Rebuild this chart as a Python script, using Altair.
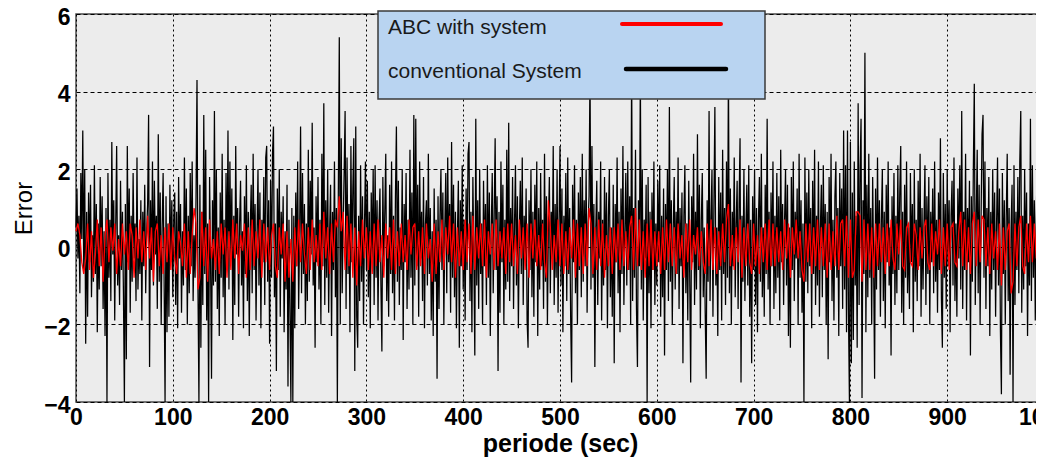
import altair as alt
import pandas as pd

# ---- data read (estimated) from the reference picture ----
series_names = ["ABC with system", "conventional System"]
series_colors = ["#ff0000", "#000000"]
x_ticks = [0, 100, 200, 300, 400, 500, 600, 700, 800, 900, 1000]
y_ticks = [-4, -2, 0, 2, 4, 6]

# conventional system: one sample per second
conventional_error = [
    0.5, 1.5, -0.3, 0.8, -1.2, 1.9, 0.2, 3.0, -0.6, 2.0, -2.5, 0.9, -1.8, 1.4, -0.4, 1.6, -1.3, 0.3, -0.9, 2.1, -0.7, 1.1, -2.2, 0.6, -1.1,
    1.8, -0.5, 1.3, -1.6, 0.4, -2.3, 1.0, -4.0, 1.9, -0.8, 0.7, -1.4, 2.7, -0.2, 1.2, -1.9, 0.5, 2.6, -1.0, 0.3, -1.5, 1.7, -0.6, 0.9, -1.2,
    -4.0, 1.1, -2.9, 2.6, -0.4, 1.5, -1.7, 0.8, -0.9, 1.9, -0.3, 0.6, -1.4, 2.3, -1.1, 0.2, -0.7, 1.2, -1.9, 0.9, -0.5, 1.6, -1.2, 0.4, 1.1,
    3.4, -3.1, 1.2, -0.6, 2.2, -1.0, 1.7, -0.2, 0.8, -1.6, 2.9, -0.9, 1.4, -2.0, 0.5, 1.9, -0.8, -4.0, 1.3, -2.2, 0.6, -1.8, 1.6, -0.4, 1.2,
    -1.3, 0.7, 1.4, -1.5, 0.9, -2.1, 1.8, -0.3, 1.1, -1.7, 0.4, -1.0, 2.3, -0.6, 1.5, -2.0, 0.8, -1.2, 1.9, -0.5, 2.2, -1.4, 0.3, -0.8, 1.3,
    4.3, -1.1, -4.0, 1.6, -2.6, 0.9, -1.5, 3.4, -0.7, 2.5, -1.9, 0.6, -4.0, 1.8, -0.4, -3.4, 1.2, -1.0, 3.5, -0.9, 2.0, -1.6, 0.5, -2.3, 1.4,
    -0.8, 2.4, -1.3, 0.7, -2.0, 1.9, -0.6, 3.0, -1.1, 2.2, -0.3, 1.5, -2.4, 0.8, -1.5, 2.6, -0.2, 1.0, -1.8, 0.6, 1.7, -1.0, 0.4, -2.1, 1.3,
    -0.7, 2.1, -1.4, 0.9, -2.3, 0.5, 1.6, -1.2, 2.4, -0.6, 1.1, -1.9, 0.3, 2.0, -1.0, 1.4, -2.1, 0.7, -0.4, 1.8, -1.5, 2.3, 2.6, -0.9, 1.2,
    -2.5, 1.7, -0.8, 2.4, 3.1, -1.3, 0.6, -3.2, 1.5, -0.6, 2.0, -1.8, 0.9, -0.3, 1.3, -2.2, 0.4, -1.1, 1.6, -3.6, 0.7, -1.7, -4.0, 1.0, -4.0,
    0.8, -2.1, 1.4, -0.5, 2.2, -1.6, 0.3, 3.1, -1.2, 1.9, -0.7, 1.1, -2.0, 0.6, -1.4, 2.5, -0.9, 1.7, -0.2, 3.2, -1.0, 0.5, -2.6, 1.3, -0.4,
    1.8, -1.1, 0.7, -2.0, 2.4, -0.5, 3.7, -1.5, 1.2, -0.8, 2.0, -1.7, 0.4, 1.6, -2.3, 0.9, -0.6, 2.2, -1.3, 1.0, -4.0, 1.4, 5.4, -2.0, 2.8,
    -1.2, 0.6, 1.9, 3.5, -1.6, 2.3, -0.7, 1.1, -2.2, 2.6, -0.4, 1.5, 2.8, -3.2, 3.1, -1.8, -2.6, 0.8, -1.4, 2.1, -0.9, 1.3, -2.0, 0.5, 2.2,
    -0.6, 1.7, -1.3, 0.9, -2.1, 1.4, -0.3, 2.0, -1.5, 2.1, -0.8, 1.2, -1.9, 0.6, 1.5, -1.0, -2.7, 1.8, -0.5, 0.9, 2.4, -1.4, 0.3, -1.8, 1.6,
    -0.7, 2.2, -1.2, 0.8, -1.9, 1.3, 3.1, -0.9, 1.7, -1.5, 0.5, -0.6, 2.0, -2.4, 1.1, -0.4, 1.9, -1.6, 0.7, -1.1, 2.5, -0.8, 1.4, -2.0, 3.4,
    -1.0, 3.3, -0.5, 1.6, -1.8, 2.2, -0.3, 0.9, -1.4, 1.8, -2.1, 0.6, 1.2, -1.0, 2.4, -0.7, 1.0, -1.9, 0.4, -2.3, 1.5, -0.9, 0.7, -3.4, 1.3,
    -1.6, 0.8, 2.0, -0.6, 1.4, -2.0, 0.5, 1.9, -1.2, 2.3, -0.4, 1.1, -1.7, 2.7, -0.8, 1.6, -1.3, 0.9, -2.1, 0.3, 1.7, -2.6, 1.2, -0.5, 2.1,
    -1.1, 0.7, -1.9, 1.5, -0.6, 2.4, 2.7, -1.4, 0.9, -2.2, 1.8, -0.3, -2.8, 3.3, -1.0, 1.2, -1.6, 2.0, -0.7, 0.6, -2.0, 1.7, -0.5, 1.1, -1.5,
    2.1, -0.8, 1.4, -2.3, 0.5, 1.9, -1.2, 0.8, 2.8, -0.6, 1.3, -3.2, 0.9, -1.7, 2.2, -0.4, 1.6, -2.0, 0.7, -1.1, 2.5, -0.9, 3.2, -1.4, 1.0,
    -0.5, 1.8, -1.6, 0.6, 2.1, -1.0, 1.3, -2.1, 0.4, 1.7, -0.7, 2.3, -1.5, 0.8, -0.3, 1.5, -1.9, -2.6, 1.2, -0.6, 2.0, -1.3, 0.9, -1.8, 1.6,
    -0.4, 2.2, -2.3, 1.0, -1.1, 1.9, -0.5, 0.7, -1.6, 2.4, -0.9, 1.3, -2.0, 0.5, 1.8, -1.2, 0.9, -0.3, 2.6, -1.5, 1.1, -0.8, 2.0, -1.7, 0.6,
    2.6, -1.0, 1.5, -2.2, 0.8, -0.5, 1.9, -1.4, 2.3, -0.7, 1.0, -1.8, -3.5, 1.6, -0.4, 2.1, -1.2, 0.7, -2.0, 1.4, -0.6, 1.8, -1.3, 2.4, -0.9,
    1.2, -0.5, 2.0, -1.7, 0.6, 1.3, 4.6, -1.1, 2.6, -0.8, 1.1, -3.1, 0.5, 1.7, -1.5, 0.9, -0.3, 2.2, -1.9, 0.7, -1.0, 1.8, -0.6, 1.4, -2.1,
    0.8, 2.0, -1.3, 0.5, -1.8, 1.6, -3.0, 1.1, -0.4, 2.3, -1.2, 0.9, -2.2, 1.5, -0.7, 2.6, -1.5, 0.4, 1.9, -1.0, 2.2, -0.6, 1.3, -2.0, 4.8,
    -1.4, 1.0, -0.8, 2.5, -1.6, -3.1, 1.2, -0.5, 4.5, -1.1, 2.0, -1.9, 0.7, -0.3, 1.6, -4.0, 1.8, -1.2, 0.9, -2.1, 1.4, -0.6, 2.2, -1.5, 0.6,
    -1.0, 1.7, -0.4, 2.1, -1.8, 0.8, -1.3, 1.5, -2.8, 1.1, -0.6, 2.0, -1.4, 3.6, -0.9, 1.2, -2.0, 0.5, 1.8, -1.1, 0.9, -0.7, 2.3, -1.6, 1.0,
    -0.5, 1.4, -3.0, 0.8, 2.1, -1.2, 0.6, -1.9, 1.7, -0.8, -3.5, 1.3, -0.4, 2.4, -1.5, 0.9, -1.1, 2.9, -0.6, 1.6, -2.1, 0.7, 1.9, -1.3, 0.5,
    -1.7, -3.4, 1.2, -0.9, 3.5, -1.4, 0.7, 2.0, -1.8, 1.1, 3.6, -1.0, 0.5, -2.3, 1.8, -0.6, 1.4, -1.9, 2.5, -0.7, 1.0, -1.5, 2.2, -0.8, 4.6,
    -1.2, 1.5, -2.0, 0.9, -0.5, 2.3, -1.3, 0.6, 1.7, -1.6, 1.1, 2.8, -3.5, 0.8, -0.9, 2.0, -1.4, 0.4, 1.6, -1.0, 2.1, -1.8, 0.7, -3.0, 1.3,
    -0.6, 2.0, -1.5, 1.0, -2.2, 0.7, 1.8, -0.9, 2.4, -1.3, 0.5, -1.8, 1.6, -0.7, 3.3, -1.1, 0.9, -2.0, 1.4, -0.5, 2.2, -1.6, 0.8, -1.2, 1.9,
    -0.8, 1.3, -1.9, 2.5, -0.4, 1.1, -1.5, 0.7, 2.0, -1.0, 1.6, -2.3, 0.5, -2.6, 1.8, -0.6, 2.2, -1.4, 0.9, -0.3, 1.5, -2.0, 2.4, -0.8, 1.2,
    -1.7, 0.6, -4.0, 2.3, -0.9, 1.4, -1.2, 2.0, -0.5, 1.0, -2.1, 1.7, -0.7, 2.5, -1.5, 0.8, -1.0, 2.2, -1.8, 0.5, 1.6, -1.3, 2.1, -0.6, 1.1,
    -2.0, 0.9, -2.9, 1.8, -0.4, 2.4, -1.4, 0.7, -1.9, 1.3, 2.2, -0.8, 1.0, -2.3, 1.9, -0.5, 1.5, -1.6, 3.0, -1.1, 2.1, -2.2, 3.0, -1.7, -4.0,
    2.7, -3.0, 1.4, -2.4, 2.2, -1.0, 0.8, -2.6, 3.7, -1.5, 2.0, 3.3, -3.9, 1.2, -0.7, 5.0, -2.2, 1.6, -1.3, 2.4, -0.8, 1.0, -2.0, 1.8, -0.5,
    -3.4, 1.5, -1.1, 2.3, -0.6, 1.2, -1.8, 0.7, 2.0, -1.4, 0.9, -2.1, 1.6, -0.4, 2.2, -1.0, 0.5, -2.8, 1.3, -0.7, 1.9, -1.5, 0.8, -1.2, 2.1,
    -0.6, 1.4, 2.6, -1.7, 0.9, -2.0, 1.6, -0.8, 2.2, -1.2, 0.5, -1.6, 1.9, -0.4, 1.1, -2.2, 2.0, -0.9, 0.7, -1.4, 1.7, -0.5, 2.4, -1.8, 1.0,
    -1.1, 0.6, 2.1, -1.5, 1.3, -0.7, 1.8, -2.0, 0.9, -0.4, 1.5, -1.2, 2.2, -0.9, 0.7, -1.7, 1.4, -0.6, 2.8, -1.3, -2.6, 1.9, -0.8, 1.1, -1.6,
    2.0, -0.5, 1.2, -2.2, 0.8, 1.7, -1.0, 2.3, -1.4, 0.6, -1.8, 1.5, -0.3, 2.1, -1.1, 3.5, -1.6, 0.9, -0.6, 2.4, -1.9, 1.0, -0.4, 1.7, -2.8,
    1.3, -0.9, 2.0, 4.2, -1.5, 0.7, 2.5, -1.2, 1.6, -2.0, 0.8, 2.9, 3.4, -0.8, 2.2, -1.6, 1.0, -0.5, 1.8, -2.3, 0.9, -1.1, 2.0, -0.6, 1.4,
    -1.8, 0.6, 2.3, -1.0, 1.5, -2.2, -3.8, 1.9, -0.7, 1.2, -2.0, 0.8, 2.4, -1.4, 1.0, -3.3, 0.5, 1.6, -4.0, 2.1, -1.5, 0.9, -0.6, 1.8, -1.2,
    2.2, 3.5, -1.7, 0.8, -1.1, 2.0, -0.5, 1.4, -2.3, 0.6, -1.0, 3.3, -1.4, 2.1, -0.8, 1.2, -1.9, 0.7, 2.4, -1.3, 1.6, -0.9, 1.9, -2.1, 0.9, -0.5,
]

# ABC with system: one sample every 2 s
abc_error = [
    0.4, 0.6, 0.3, -0.4, -0.7, -0.3, 0.6, -0.6, 0.4, -0.8, -0.2, 0.7, -0.5, 0.5, -0.9, 0.3, 0.7, -0.4, 0.5, -0.1, 0.6, -0.7, 0.2, -0.5, 0.6,
    -0.2, 0.4, -0.6, 0.6, 0.3, -0.8, 0.5, -0.3, 0.7, -0.4, 0.4, -0.6, 0.8, -0.3, 0.5, -0.9, 0.4, 0.6, -0.5, 0.3, -0.7, 0.5, -0.4, 0.6, -0.6,
    0.5, -0.3, -0.7, 0.4, 0.1, -0.5, 0.6, -0.8, 0.4, -0.7, 0.3, 1.0, 0.6, -1.1, -0.8, 0.9, -0.5, 0.5, -0.9, 0.7, -0.3, 0.2, -0.6, 0.4, -0.7,
    0.6, -0.2, 0.5, -0.8, 0.4, -0.6, 0.7, -0.3, 0.6, -0.7, 0.3, -0.1, 0.6, -0.8, 0.5, -0.6, 0.7, -0.5, 0.4, -0.3, 0.7, -0.8, 0.6, -0.4, 0.5,
    -0.6, 0.3, 0.6, -0.5, -0.8, 0.5, -0.2, 0.6, -0.9, 0.4, -0.8, 0.2, -0.9, 0.5, -0.5, 0.7, -0.4, 0.6, -0.2, -0.7, 0.5, -0.6, 0.7, -0.4, 0.3,
    -0.5, 0.6, -0.6, 0.9, -0.3, 0.5, -0.7, 0.6, -0.4, 0.7, 0.5, 1.3, 0.4, 0.9, -0.6, 0.8, -0.5, 0.6, -0.8, 0.5, -1.0, 0.4, -0.5, 0.7, -0.3,
    0.5, -0.6, 0.4, -0.7, 0.6, -0.5, 0.7, -0.4, 0.3, -0.8, 0.6, -0.3, 0.5, -0.6, 0.7, -0.7, 0.4, -0.5, 0.6, -0.4, 0.3, -0.6, 0.7, -0.2, 0.5,
    0.6, -0.6, 0.4, -0.5, 0.5, -0.7, 0.6, -0.3, 0.2, -0.9, 0.6, -0.7, 0.4, -0.4, 0.7, -0.6, 0.5, -0.2, 0.8, -0.4, 0.6, -0.8, 0.5, -0.5, 0.4,
    -0.6, 0.7, -0.4, 0.6, -0.7, 0.8, -0.6, 0.5, -0.3, 0.6, -0.5, 0.7, -0.8, 0.4, -0.2, 0.6, -0.6, 0.7, -0.5, 0.4, -0.3, 0.5, -0.7, 0.6, -0.4,
    0.6, -0.5, 0.3, -0.7, 0.7, -0.3, 0.5, -0.6, 0.6, -0.8, 0.6, -0.3, 0.7, -0.5, 0.3, -0.6, 0.6, -0.4, -0.8, 1.2, 0.5, -0.6, 0.3, -0.4, 0.7,
    -0.5, 0.6, -0.7, 0.4, -0.6, 0.5, -0.3, 0.7, -0.8, 0.6, -0.5, 0.5, -0.7, 0.6, -0.5, 1.0, 0.6, -0.7, 0.5, -0.6, 0.7, -0.5, 0.6, -0.8, 0.3,
    -0.5, 0.5, -0.7, 0.5, -0.4, 0.6, -0.6, 0.7, -0.5, 0.4, -0.6, 0.5, 0.8, -0.6, 1.0, -0.5, 0.7, -0.6, 0.4, -0.8, 0.6, -0.5, 0.7, -0.6, 0.4,
    -0.5, 0.4, -0.7, 0.5, -0.6, 0.7, -0.4, 0.6, -0.5, 0.5, -0.7, 0.6, -0.3, 0.3, -0.8, 0.6, -0.4, 0.7, -0.6, 0.3, -0.2, 0.5, -0.5, 0.4, -0.4,
    -0.7, 0.6, -0.5, 0.7, -0.6, 0.5, -0.7, 0.4, -0.5, 0.6, -0.4, 0.7, 1.1, -0.5, 0.3, -0.6, 0.5, -0.4, 0.7, -0.8, 0.5, -0.5, 0.6, -0.4, -0.7,
    0.6, -0.5, 0.3, -0.7, 0.5, -0.4, 0.6, -0.6, 0.7, -0.5, 0.6, -0.5, 0.5, -0.4, 0.4, -0.6, 0.7, -0.3, 0.6, -0.8, 0.5, -0.2, 0.7, -0.3, 0.4,
    -0.6, -0.9, 0.6, -0.4, 0.6, -0.7, 0.5, -0.5, 0.7, -0.6, 0.5, -0.5, 0.6, -0.8, 0.6, -0.6, 0.4, -0.5, 0.8, -0.6, 0.6, 0.7, -0.5, 0.8, -0.8,
    0.7, -0.8, -0.6, 0.9, 0.9, 0.8, -0.9, 0.7, -0.6, 0.6, -0.6, 0.5, -0.8, 0.6, -0.5, 0.6, -0.4, 0.5, -0.7, 0.6, -0.5, 0.7, -0.3, -0.6, 0.6,
    -0.2, 0.7, -0.5, -0.6, 0.5, 0.6, -0.4, -0.5, 0.6, 0.3, -0.6, 0.5, -0.3, 0.5, 0.7, -0.4, -0.6, 0.6, -0.5, 0.4, -0.2, 0.7, -0.7, 0.5, -0.5,
    0.6, -0.6, 0.5, 0.6, -0.4, -0.5, 0.4, 0.9, -0.5, 0.7, -0.6, 0.5, -0.7, 0.6, 0.9, -0.5, 0.7, -0.4, 0.8, 0.7, -0.5, 0.5, -0.7, 0.6, -0.3,
    0.4, -0.6, 0.6, -1.0, 0.5, -0.6, 0.4, 0.6, -1.2, -0.9, 0.6, -0.5, 0.5, 0.8, -0.5, -0.7, 0.6, -0.4, 0.8, -0.4, 0.6, -0.3, 0.7, -0.6, 0.4,
    -0.2,
]

# sample times over 0..1000 s
def times(values):
    n = len(values)
    return [i * 1000.0 / (n - 1) for i in range(n)]

df_conv = pd.DataFrame({"t": times(conventional_error), "err": conventional_error})
df_abc = pd.DataFrame({"t": times(abc_error), "err": abc_error})
one = pd.DataFrame({"k": [0]})

FONT = "Liberation Sans"

x_enc = alt.X(
    "t:Q",
    scale=alt.Scale(domain=[0, 1000], nice=False, zero=False),
    axis=alt.Axis(
        values=x_ticks, format="d", title="periode (sec)",
        grid=True, gridColor="#000000", gridDash=[2, 3], gridWidth=1, gridOpacity=1,
        domain=False, ticks=False, labelPadding=4,
        labelFont=FONT, labelFontSize=23, labelFontWeight="bold", labelColor="#000000",
        labelFlush=False, labelOverlap=False,
        titleFont=FONT, titleFontSize=25, titleFontWeight="bold", titleColor="#000000",
        titleY=49, titleBaseline="alphabetic",
    ),
)
y_enc = alt.Y(
    "err:Q",
    scale=alt.Scale(domain=[-4, 6], nice=False, zero=False),
    axis=alt.Axis(
        values=y_ticks, format="d", title="Error",
        grid=True, gridColor="#000000", gridDash=[4, 3], gridWidth=1, gridOpacity=1,
        domain=False, ticks=False, labelPadding=6, labelOffset=3,
        labelFont=FONT, labelFontSize=23, labelFontWeight="bold", labelColor="#000000",
        labelFlush=False, labelOverlap=False,
        titleFont=FONT, titleFontSize=24, titleFontWeight="normal", titleColor="#000000",
        titleX=-45, titleY=194, titleBaseline="alphabetic", titleAngle=270,
    ),
)

conv_line = alt.Chart(df_conv).mark_line(color=series_colors[1], strokeWidth=1.25).encode(x=x_enc, y=y_enc)
abc_line = alt.Chart(df_abc).mark_line(color=series_colors[0], strokeWidth=1.3).encode(x=x_enc, y=y_enc)

# legend box (upper middle, like the reference)
leg_box = alt.Chart(one).mark_rect(fill="#b9d4f1", stroke="#3a3a3a", strokeWidth=1.5).encode(
    x=alt.value(302), x2=alt.value(689), y=alt.value(-3), y2=alt.value(85)
)
leg_text1 = alt.Chart(one).mark_text(
    align="left", baseline="alphabetic", font=FONT, fontSize=21, color="#1a1a1a"
).encode(x=alt.value(312), y=alt.value(20), text=alt.value(series_names[0]))
leg_text2 = alt.Chart(one).mark_text(
    align="left", baseline="alphabetic", font=FONT, fontSize=21, color="#1a1a1a"
).encode(x=alt.value(312), y=alt.value(64), text=alt.value(series_names[1]))
leg_rule1 = alt.Chart(one).mark_rule(color=series_colors[0], strokeWidth=4, strokeCap="round").encode(
    x=alt.value(546), x2=alt.value(645), y=alt.value(10)
)
leg_rule2 = alt.Chart(one).mark_rule(color=series_colors[1], strokeWidth=4.5, strokeCap="round").encode(
    x=alt.value(550), x2=alt.value(650), y=alt.value(55)
)

chart = (
    alt.layer(conv_line, abc_line, leg_box, leg_text1, leg_text2, leg_rule1, leg_rule2)
    .properties(
        width=968, height=388,
        padding={"left": 68, "top": 6, "right": -8, "bottom": 57},
        autosize=alt.AutoSizeParams(type="none"),
        background="#ffffff",
    )
    .configure_view(fill="#ececec", stroke="#4a4a4a", strokeWidth=1.5)
)

chart.save("out.html", embed_options={"renderer": "svg", "actions": False})
